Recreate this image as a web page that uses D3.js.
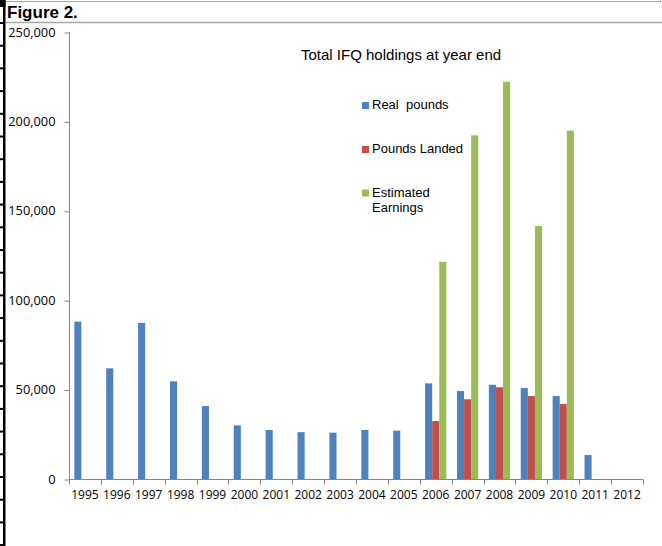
<!DOCTYPE html>
<html>
<head>
<meta charset="utf-8">
<script src="https://cdn.jsdelivr.net/npm/d3@7"></script>
<style>
  html, body { margin: 0; padding: 0; background: #fff; }
  svg { display: block; }
</style>
</head>
<body>
<svg id="chart" width="662" height="546"></svg>
<script>
const years = ["1995","1996","1997","1998","1999","2000","2001","2002","2003","2004","2005","2006","2007","2008","2009","2010","2011","2012"];
const realPounds   = [88000, 61900, 87300, 54600, 40800, 30000, 27400, 26200, 25900, 27400, 27000, 53500, 49200, 52700, 50900, 46400, 13400, 0];
const poundsLanded = [0, 0, 0, 0, 0, 0, 0, 0, 0, 0, 0, 32400, 44600, 51300, 46400, 42000, 0, 0];
const estEarnings  = [0, 0, 0, 0, 0, 0, 0, 0, 0, 0, 0, 121500, 192200, 222200, 141500, 194800, 0, 0];
const yTicks = [0, 50000, 100000, 150000, 200000, 250000];
const seriesNames = ["Real  pounds", "Pounds Landed", "Estimated\nEarnings"];
const seriesColors = ["#4F81BD", "#C0504D", "#9BBB59"];
const chartTitle = "Total IFQ holdings at year end";
const figureLabel = "Figure 2.";

const series = [realPounds, poundsLanded, estEarnings];
const svg = d3.select("#chart");

// spreadsheet frame
svg.append("line").attr("x1", 6).attr("x2", 660).attr("y1", 1.5).attr("y2", 1.5).attr("stroke", "#a6a6a6").attr("stroke-width", 1);
svg.append("line").attr("x1", 660.5).attr("x2", 660.5).attr("y1", 0).attr("y2", 2).attr("stroke", "#a6a6a6");
svg.append("line").attr("x1", 6).attr("x2", 662).attr("y1", 22.5).attr("y2", 22.5).attr("stroke", "#a6a6a6").attr("stroke-width", 1.5);
svg.append("rect").attr("x", 3).attr("y", 0).attr("width", 2.5).attr("height", 546).attr("fill", "#000");
svg.append("rect").attr("x", 0).attr("y", 0).attr("width", 5.5).attr("height", 7).attr("fill", "#000");
const rowLines = d3.range(22, 546, 22.7);
svg.selectAll("rect.rowtick").data(rowLines).enter().append("rect")
  .attr("class", "rowtick").attr("x", 0).attr("y", d => d).attr("width", 4).attr("height", 2).attr("fill", "#000");

svg.append("text").attr("x", 7).attr("y", 17.5)
  .attr("font-family", "Liberation Sans, Arial, sans-serif").attr("font-weight", "bold").attr("font-size", 17)
  .attr("fill", "#000").text(figureLabel);

// scales
const x0 = 69, x1 = 643, yTop = 32, yBottom = 479;
const x = d3.scaleBand().domain(years).range([x0, x1]).paddingInner(0).paddingOuter(0);
const y = d3.scaleLinear().domain([0, 250000]).range([yBottom, yTop]);
const gap = 1.5;
const bw = x.bandwidth() / (3 + gap);
const off = bw * gap / 2;

// bars
series.forEach((vals, si) => {
  svg.append("g").selectAll("rect").data(years.map((yr, i) => ({yr, v: vals[i]})).filter(d => d.v > 0))
    .enter().append("rect")
    .attr("x", d => x(d.yr) + off + si * bw)
    .attr("y", d => y(d.v))
    .attr("width", bw)
    .attr("height", d => yBottom - y(d.v))
    .attr("fill", seriesColors[si]);
});

// y axis
const yAxis = d3.axisLeft(y).tickValues(yTicks).tickSize(5).tickPadding(9)
  .tickFormat(d => d3.format(",")(d));
const gy = svg.append("g").attr("transform", `translate(${x0 + 0.5},0)`).call(yAxis);
gy.select(".domain").attr("stroke", "#868686").attr("d", `M-0,${yTop}V${yBottom}`);
gy.selectAll(".tick line").attr("stroke", "#868686").attr("transform", "translate(0,0.5)");
gy.selectAll(".tick text").attr("font-family", "Open Sans, sans-serif").attr("font-size", 12.8).attr("fill", "#000");

// x axis
const xAxis = d3.axisBottom(x).tickSize(0).tickPadding(11);
const gx = svg.append("g").attr("transform", `translate(0,${yBottom + 0.5})`).call(xAxis);
gx.select(".domain").attr("stroke", "#868686").attr("d", `M${x0},0H${x1}`);
gx.selectAll(".tick text").attr("font-family", "Open Sans, sans-serif").attr("font-size", 12).attr("fill", "#000");
// category boundary ticks
const bounds = years.map(yr => x(yr)).concat([x1]);
gx.append("g").selectAll("line").data(bounds).enter().append("line")
  .attr("x1", d => Math.round(d) + 0.5).attr("x2", d => Math.round(d) + 0.5)
  .attr("y1", 0).attr("y2", 5).attr("stroke", "#868686");

// title
svg.append("text").attr("x", 301).attr("y", 60)
  .attr("font-family", "Liberation Sans, Arial, sans-serif").attr("font-size", 15).attr("fill", "#000")
  .text(chartTitle);

// legend
const legY = [109, 153, 196.5];
seriesNames.forEach((name, i) => {
  svg.append("rect").attr("x", 362).attr("y", legY[i] - 7).attr("width", 7).attr("height", 7).attr("fill", seriesColors[i]);
  const t = svg.append("text").attr("x", 372).attr("y", legY[i])
    .attr("font-family", "Liberation Sans, Arial, sans-serif").attr("font-size", 13).attr("fill", "#000")
    .style("white-space", "pre");
  name.split("\n").forEach((ln, j) => {
    t.append("tspan").attr("x", 372).attr("dy", j === 0 ? 0 : 15).text(ln);
  });
});
</script>
</body>
</html>
